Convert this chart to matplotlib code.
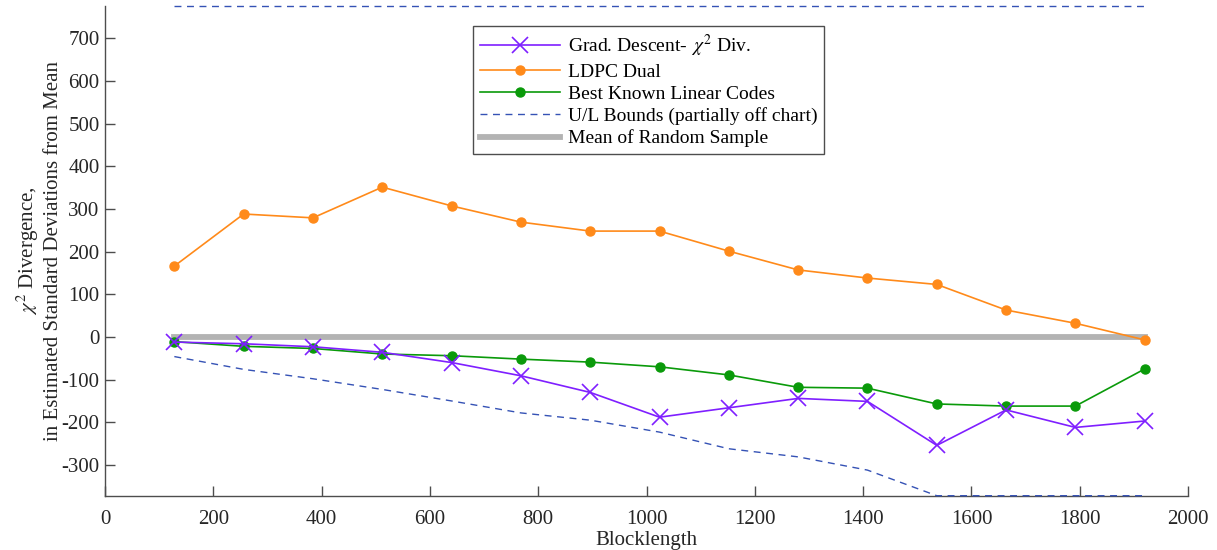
import matplotlib
matplotlib.use("Agg")
import matplotlib.pyplot as plt

plt.rcParams["font.family"] = ["Liberation Serif", "DejaVu Serif"]
plt.rcParams["font.serif"] = ["Liberation Serif", "DejaVu Serif"]
plt.rcParams["mathtext.fontset"] = "stix"
plt.rcParams["axes.unicode_minus"] = False

# Block lengths (multiples of 128)
blocklength = [128, 256, 384, 512, 640, 768, 896, 1024, 1152, 1280, 1408, 1536, 1664, 1792, 1920]

grad_descent = [-12, -16, -23, -36, -60, -91, -130, -188, -166, -144, -151, -254, -171, -212, -197]
ldpc_dual = [166, 288, 279, 351, 307, 269, 248, 248, 201, 157, 138, 123, 63, 32, -7]
best_known = [-11, -22, -27, -40, -44, -52, -59, -70, -89, -118, -120, -157, -162, -162, -75]

# Bounds; values beyond the axis limits are pinned to the chart edge
upper_bound = [775] * 15
lower_bound = [-46, -76, -98, -123, -150, -178, -195, -223, -262, -281, -312, -372, -372, -372, -372]
mean_sample = [0] * 15

y_limits = (-372, 776)
x_ticks = list(range(0, 2001, 200))
y_ticks = list(range(-300, 701, 100))

fig = plt.figure(figsize=(12.17, 5.5), dpi=100)
ax = fig.add_axes([0.0863, 0.0987, 0.8899, 0.8909])

ax.plot(blocklength, grad_descent, color="#7f1fff", lw=1.2, marker="x",
        markersize=11, markeredgewidth=1.2, label=r"Grad. Descent- $\,\chi^2$ Div.", zorder=5)
ax.plot(blocklength, ldpc_dual, color="#ff8a1a", lw=1.2, marker="o",
        markersize=6.5, label="LDPC Dual", zorder=4)
ax.plot(blocklength, best_known, color="#0a9a0a", lw=1.2, marker="o",
        markersize=6.5, label="Best Known Linear Codes", zorder=4)
ax.plot(blocklength, lower_bound, color="#3552b5", lw=1.0, ls=(0, (5, 4)),
        label="U/L Bounds (partially off chart)", clip_on=False, zorder=3)
ax.plot(blocklength, upper_bound, color="#3552b5", lw=1.0, ls=(0, (5, 4)),
        clip_on=False, zorder=3)
ax.plot(blocklength, mean_sample, color="#b3b3b3", lw=4.2,
        label="Mean of Random Sample", zorder=2)

ax.set_xlim(0, 2000)
ax.set_ylim(*y_limits)
ax.set_xticks(x_ticks)
ax.set_yticks(y_ticks)
ax.set_xticklabels([str(t) for t in x_ticks], fontfamily="Liberation Serif")
ax.set_yticklabels([str(t) for t in y_ticks], fontfamily="Liberation Serif")

for side in ("top", "right"):
    ax.spines[side].set_visible(False)
for side in ("left", "bottom"):
    ax.spines[side].set_color("#4d4d4d")
    ax.spines[side].set_linewidth(1.0)

ax.tick_params(direction="in", length=7, width=1.0, color="#4d4d4d",
               labelsize=15, labelcolor="#262626")
ax.tick_params(axis="x", pad=10)
ax.tick_params(axis="y", pad=4)

ax.set_xlabel("Blocklength", fontsize=15, color="#262626", labelpad=2)
ax.set_ylabel("$\\chi^2$ Divergence,\nin Estimated Standard Deviations from Mean",
              fontsize=15, color="#262626", linespacing=1.2)
ax.yaxis.set_label_coords(-0.039, 0.5)

leg = ax.legend(loc="upper left", bbox_to_anchor=(0.340, 0.958), fontsize=14,
                handlelength=4.1, handletextpad=0.4, borderpad=0.35,
                labelspacing=0.22, fancybox=False, framealpha=1,
                edgecolor="#4d4d4d", borderaxespad=0)
leg.get_frame().set_linewidth(1.0)

fig.savefig("out.png", dpi=100)
